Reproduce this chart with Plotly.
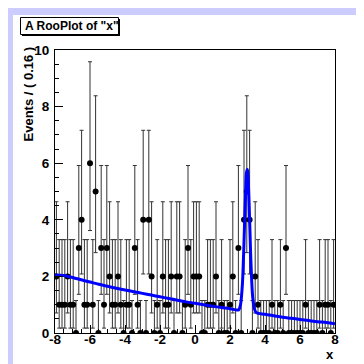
import math
import plotly.graph_objects as go

# ---- data ----
bin_lo, bin_hi, n_bins = -8.0, 8.0, 100
counts = [2, 1, 1, 1, 2, 1, 1, 0, 3, 4, 1, 1, 6, 1, 5, 0, 3, 1, 3, 2,
          1, 1, 2, 1, 0, 1, 1, 0, 3, 1, 0, 4, 0, 4, 2, 0, 1, 0, 2, 1,
          1, 2, 0, 2, 2, 0, 1, 3, 1, 2, 2, 2, 0, 0, 1, 1, 1, 2, 0, 1,
          0, 0, 1, 2, 0, 3, 0, 4, 5, 4, 0, 2, 1, 0, 0, 0, 0, 1, 0, 0,
          1, 0, 3, 0, 0, 0, 0, 0, 0, 1, 0, 0, 0, 0, 1, 0, 1, 1, 0, 1]

curve_x = [-8.0, -7.5, -7.0, -6.5, -6.0, -5.5, -5.0, -4.5, -4.0, -3.5, -3.0,
           -2.5, -2.0, -1.5, -1.0, -0.5, 0.0, 0.5, 1.0, 1.5, 2.0, 2.4, 2.5,
           2.6, 2.7, 2.75, 2.8, 2.85, 2.9, 2.95, 3.0, 3.05, 3.1, 3.15, 3.2,
           3.3, 3.4, 3.5, 4.0, 4.5, 5.0, 5.5, 6.0, 6.5, 7.0, 7.5, 8.0]
curve_y = [2.05, 2.03, 1.96, 1.88, 1.80, 1.72, 1.65, 1.58, 1.52, 1.46, 1.40,
           1.34, 1.28, 1.22, 1.16, 1.10, 1.05, 1.00, 0.95, 0.90, 0.86, 0.81, 0.82,
           1.00, 1.65, 2.30, 3.20, 4.20, 5.10, 5.70, 5.78, 5.25, 4.40, 3.40, 2.45,
           1.25, 0.85, 0.72, 0.66, 0.61, 0.56, 0.52, 0.48, 0.44, 0.40, 0.37, 0.33]

x_ticks = [-8, -6, -4, -2, 0, 2, 4, 6, 8]
y_ticks = [0, 2, 4, 6, 8, 10]
title_text = 'A RooPlot of "x"'
y_title = "Events / ( 0.16 )"
x_title = "x"

# ---- Poisson (RooFit style) error intervals derived from the counts ----
def pcdf(n, mu):
    s, t = 0.0, math.exp(-mu)
    for k in range(n + 1):
        s += t
        t *= mu / (k + 1)
    return s

def solve(f, target, lo, hi):
    for _ in range(200):
        mid = 0.5 * (lo + hi)
        if f(mid) > target:
            lo = mid
        else:
            hi = mid
    return 0.5 * (lo + hi)

alpha = 0.5 * (1 - math.erf(1 / math.sqrt(2)))
def interval(n):
    if n == 0:
        return 0.0, solve(lambda m: pcdf(0, m), 2 * alpha, 0, 50)
    up = solve(lambda m: pcdf(n, m), alpha, 0, 50)
    lo = solve(lambda m: -(1 - pcdf(n - 1, m)), -alpha, 0, 50)
    return lo, up

width = (bin_hi - bin_lo) / n_bins
centers = [bin_lo + width * (i + 0.5) for i in range(n_bins)]
err_up, err_dn = [], []
for n in counts:
    lo, up = interval(n)
    err_up.append(up - n)
    err_dn.append(n - lo)

FONT = "Liberation Sans, Arial, Helvetica, sans-serif"

fig = go.Figure()
fig.add_trace(go.Scatter(
    x=centers, y=counts, mode="markers",
    marker=dict(color="black", size=6),
    error_y=dict(type="data", symmetric=False, array=err_up, arrayminus=err_dn,
                 color="#333333", thickness=1, width=2),
    showlegend=False, hoverinfo="skip"))
fig.add_trace(go.Scatter(
    x=curve_x, y=curve_y, mode="lines", line=dict(color="#0000ff", width=3),
    line_shape="spline", showlegend=False, hoverinfo="skip"))

L, R, T, B = 47, 327, 42, 325
def xp(px): return (px - L) / (R - L)
def yp(py): return (B - py) / (B - T)

axis_common = dict(showgrid=False, zeroline=False, showline=True, linecolor="black",
                   linewidth=1, mirror=True, ticks="inside", ticklen=8,
                   tickcolor="black", tickwidth=1,
                   tickfont=dict(family=FONT, size=13.5, color="black", weight="bold"))
fig.update_xaxes(range=[-8, 8], tickvals=x_ticks, ticktext=[str(v) for v in x_ticks],
                 ticklabelstandoff=-6,
                 minor=dict(ticks="inside", ticklen=4, dtick=0.5, tickcolor="black",
                            showgrid=False), **axis_common)
fig.update_yaxes(range=[0, 10], tickvals=y_ticks, ticktext=[str(v) for v in y_ticks],
                 ticklabelstandoff=2,
                 minor=dict(ticks="inside", ticklen=4, dtick=0.5, tickcolor="black",
                            showgrid=False), **axis_common)

shapes = [
    dict(type="rect", xref="paper", yref="paper", x0=xp(5), x1=xp(356), y0=yp(357), y1=yp(7),
         fillcolor="white", line=dict(width=0), layer="below"),
    dict(type="rect", xref="paper", yref="paper", x0=xp(14), x1=xp(112), y0=yp(28), y1=yp(11),
         fillcolor="black", line=dict(width=0), layer="above"),
    dict(type="rect", xref="paper", yref="paper", x0=xp(12.5), x1=xp(110.5), y0=yp(26.5), y1=yp(9.5),
         fillcolor="white", line=dict(color="black", width=1), layer="above"),
]
annotations = [
    dict(text=title_text, xref="paper", yref="paper", x=xp(15), y=yp(18), xanchor="left",
         yanchor="middle", showarrow=False,
         font=dict(family=FONT, size=12, color="black", weight="bold")),
    dict(text=y_title, xref="paper", yref="paper", x=xp(20), y=yp(37), xanchor="center",
         yanchor="top", textangle=-90, showarrow=False,
         font=dict(family=FONT, size=13, color="black", weight="bold")),
    dict(text=x_title, xref="paper", yref="paper", x=xp(322), y=yp(346), xanchor="center",
         yanchor="middle", showarrow=False,
         font=dict(family=FONT, size=13, color="black", weight="bold")),
]

fig.update_layout(width=364, height=364, margin=dict(l=L, r=364 - R, t=T, b=364 - B),
                  paper_bgcolor="#ccccff", plot_bgcolor="white",
                  shapes=shapes, annotations=annotations, showlegend=False)
fig.write_html("out.html")
